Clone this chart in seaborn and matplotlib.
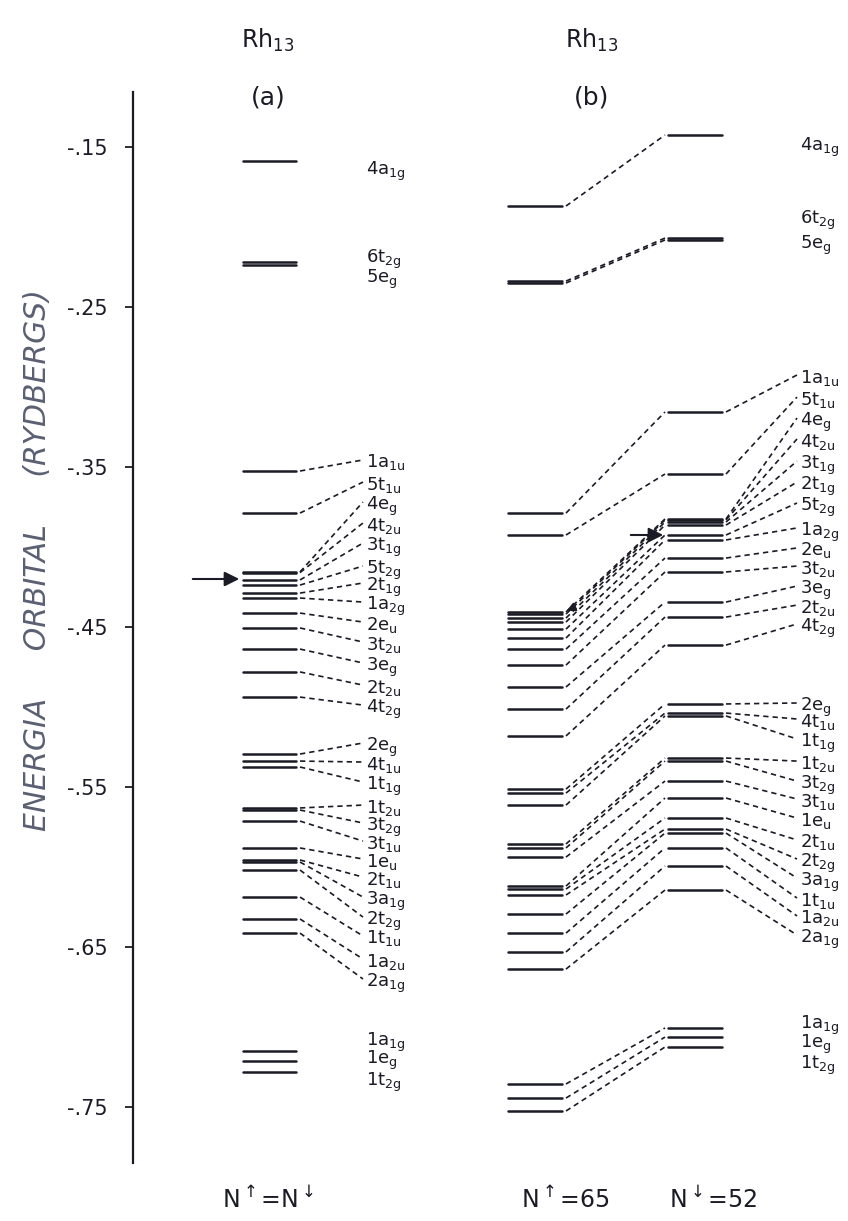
import pandas as pd
import seaborn as sns
import matplotlib.pyplot as plt

# ---- panel (a): Rh13, N(up) = N(down) ----
names_a = ["4a_1g", "6t_2g", "5e_g", "1a_1u", "5t_1u", "4e_g", "4t_2u", "3t_1g", "5t_2g", "2t_1g",
           "1a_2g", "2e_u", "3t_2u", "3e_g", "2t_2u", "4t_2g", "2e_g", "4t_1u", "1t_1g", "1t_2u",
           "3t_2g", "3t_1u", "1e_u", "2t_1u", "3a_1g", "2t_2g", "1t_1u", "1a_2u", "2a_1g",
           "1a_1g", "1e_g", "1t_2g"]
E_a = [-0.1588, -0.2219, -0.2238, -0.3525, -0.3788, -0.4156, -0.4160, -0.4206, -0.4238, -0.4288,
       -0.4319, -0.4413, -0.4506, -0.4638, -0.4781, -0.4938, -0.5294, -0.5338, -0.5375, -0.5631,
       -0.5644, -0.5713, -0.5881, -0.5956, -0.5969, -0.6019, -0.6188, -0.6325, -0.6413,
       -0.7150, -0.7213, -0.7281]
# label heights (layout)
lab_a = [-0.1625, -0.2175, -0.2300, -0.3456, -0.3594, -0.3719, -0.3850, -0.3975, -0.4119, -0.4225,
         -0.4344, -0.4469, -0.4594, -0.4725, -0.4863, -0.4988, -0.5225, -0.5344, -0.5469, -0.5613,
         -0.5725, -0.5838, -0.5950, -0.6063, -0.6188, -0.6313, -0.6431, -0.6575, -0.6700,
         -0.7069, -0.7181, -0.7319]

# ---- panel (b): Rh13, N(up)=65, N(down)=52 ----
names_b = ["4a_1g", "6t_2g", "5e_g", "1a_1u", "5t_1u", "4e_g", "4t_2u", "3t_1g", "2t_1g", "5t_2g",
           "1a_2g", "2e_u", "3t_2u", "3e_g", "2t_2u", "4t_2g", "2e_g", "4t_1u", "1t_1g", "1t_2u",
           "3t_2g", "3t_1u", "1e_u", "2t_1u", "2t_2g", "3a_1g", "1t_1u", "1a_2u", "2a_1g",
           "1a_1g", "1e_g", "1t_2g"]
E_up = [-0.1869, -0.2338, -0.2350, -0.3788, -0.3925, -0.4406, -0.4419, -0.4444, -0.4469, -0.4513,
        -0.4569, -0.4638, -0.4738, -0.4875, -0.5013, -0.5181, -0.5513, -0.5538, -0.5613, -0.5856,
        -0.5881, -0.5938, -0.6119, -0.6138, -0.6175, -0.6294, -0.6413, -0.6531, -0.6638,
        -0.7356, -0.7444, -0.7525]
E_down = [-0.1425, -0.2069, -0.2081, -0.3156, -0.3544, -0.3825, -0.3831, -0.3844, -0.3863, -0.3925,
          -0.3956, -0.4069, -0.4156, -0.4344, -0.4438, -0.4613, -0.4981, -0.5038, -0.5056, -0.5319,
          -0.5338, -0.5463, -0.5569, -0.5694, -0.5763, -0.5788, -0.5881, -0.5994, -0.6144,
          -0.7006, -0.7063, -0.7125]
lab_b = [-0.1475, -0.1931, -0.2088, -0.2925, -0.3063, -0.3194, -0.3325, -0.3463, -0.3594, -0.3725,
         -0.3881, -0.4006, -0.4119, -0.4244, -0.4363, -0.4481, -0.4975, -0.5075, -0.5200, -0.5338,
         -0.5463, -0.5575, -0.5694, -0.5831, -0.5950, -0.6069, -0.6194, -0.6306, -0.6425,
         -0.6963, -0.7081, -0.7213]

no_link = {"4a_1g", "6t_2g", "5e_g", "1a_1g", "1e_g", "1t_2g"}
yticks = [-0.15, -0.25, -0.35, -0.45, -0.55, -0.65, -0.75]
ytick_labels = ["-.15", "-.25", "-.35", "-.45", "-.55", "-.65", "-.75"]
fermi_a = -0.420
fermi_up = -0.4406
fermi_down = -0.3925

INK = "#1b1b26"

# column geometry (figure pixels across)
A_LV = (243, 296)
A_LAB = 366
B_UP = (508, 562)
B_DN = (668, 722)
B_LAB = 800


def fmt(name):
    main, sub = name.split("_")
    return main + r"$_{\rm " + sub + "}$"


rows = []


def seg(kind, x0, y0, x1, y1):
    sid = len(rows) // 2
    rows.append(dict(seg=sid, kind=kind, x=x0, E=y0))
    rows.append(dict(seg=sid, kind=kind, x=x1, E=y1))


for n, e, l in zip(names_a, E_a, lab_a):
    seg("level", A_LV[0], e, A_LV[1], e)
    if n not in no_link:
        seg("link", A_LV[1] + 4, e, A_LAB - 3, l)

for n, eu, ed, l in zip(names_b, E_up, E_down, lab_b):
    seg("level", B_UP[0], eu, B_UP[1], eu)
    seg("level", B_DN[0], ed, B_DN[1], ed)
    seg("link", B_UP[1] + 4, eu, B_DN[0] - 3, ed)
    if n not in no_link:
        seg("link", B_DN[1] + 4, ed, B_LAB - 3, l)

df = pd.DataFrame(rows)

sns.set_theme(style="white")
plt.rcParams["font.family"] = ["DejaVu Sans"]
plt.rcParams["mathtext.fontset"] = "dejavusans"

fig = plt.figure(figsize=(8.48, 12.21), dpi=100)
ax = fig.add_axes([133 / 848, 58 / 1221, 715 / 848, 1071 / 1221])

sns.lineplot(data=df[df.kind == "level"], x="x", y="E", units="seg", estimator=None,
             sort=False, color=INK, lw=1.8, ax=ax, legend=False)
sns.lineplot(data=df[df.kind == "link"], x="x", y="E", units="seg", estimator=None,
             sort=False, color=INK, lw=1.2, linestyle=(0, (3.2, 2.4)), ax=ax, legend=False)

for n, l in zip(names_a, lab_a):
    ax.text(A_LAB, l, fmt(n), fontsize=13, color=INK, ha="left", va="center_baseline")
for n, l in zip(names_b, lab_b):
    ax.text(B_LAB, l, fmt(n), fontsize=13, color=INK, ha="left", va="center_baseline")

# Fermi level arrows
arrow = dict(arrowstyle="-|>", color=INK, lw=1.5, mutation_scale=22)
ax.annotate("", xy=(A_LV[0] - 1, fermi_a), xytext=(190, fermi_a), arrowprops=arrow)
ax.annotate("", xy=(B_DN[0] - 2, fermi_down), xytext=(628, fermi_down), arrowprops=arrow)
ax.annotate("", xy=(B_UP[1] + 2, fermi_up), xytext=(B_UP[1] + 16, fermi_up + 0.004),
            arrowprops=dict(arrowstyle="-|>", color=INK, lw=1.0, mutation_scale=14))

# headings and footers
for xc, lab in [(268, "(a)"), (592, "(b)")]:
    ax.text(xc, -0.0831, r"Rh$_{\rm 13}$", fontsize=17, color=INK, ha="center", va="center")
    ax.text(xc, -0.1188, lab, fontsize=18, color=INK, ha="center", va="center")
ax.text(268, -0.8081, r"N$^{\uparrow}$=N$^{\downarrow}$", fontsize=17, color=INK,
        ha="center", va="center")
ax.text(565, -0.8081, r"N$^{\uparrow}$=65", fontsize=17, color=INK, ha="center", va="center")
ax.text(713, -0.8081, r"N$^{\downarrow}$=52", fontsize=17, color=INK, ha="center", va="center")

ax.text(38, -0.4081, "ENERGIA     ORBITAL     (RYDBERGS)", rotation=90, fontsize=21.5,
        fontstyle="italic", color="#5a6072", ha="center", va="center")

ax.set_xlim(133, 848)
ax.set_ylim(-0.785, -0.115625)
ax.set_yticks(yticks)
ax.set_yticklabels(ytick_labels)
ax.set_xticks([])
ax.set_xlabel("")
ax.set_ylabel("")
ax.tick_params(axis="y", direction="out", length=6, width=1.3, pad=12, labelsize=15,
               colors=INK, left=True)
sns.despine(ax=ax, bottom=True)
ax.spines["left"].set_linewidth(1.6)
ax.spines["left"].set_color(INK)

fig.savefig("out.png", dpi=100, facecolor="white")
